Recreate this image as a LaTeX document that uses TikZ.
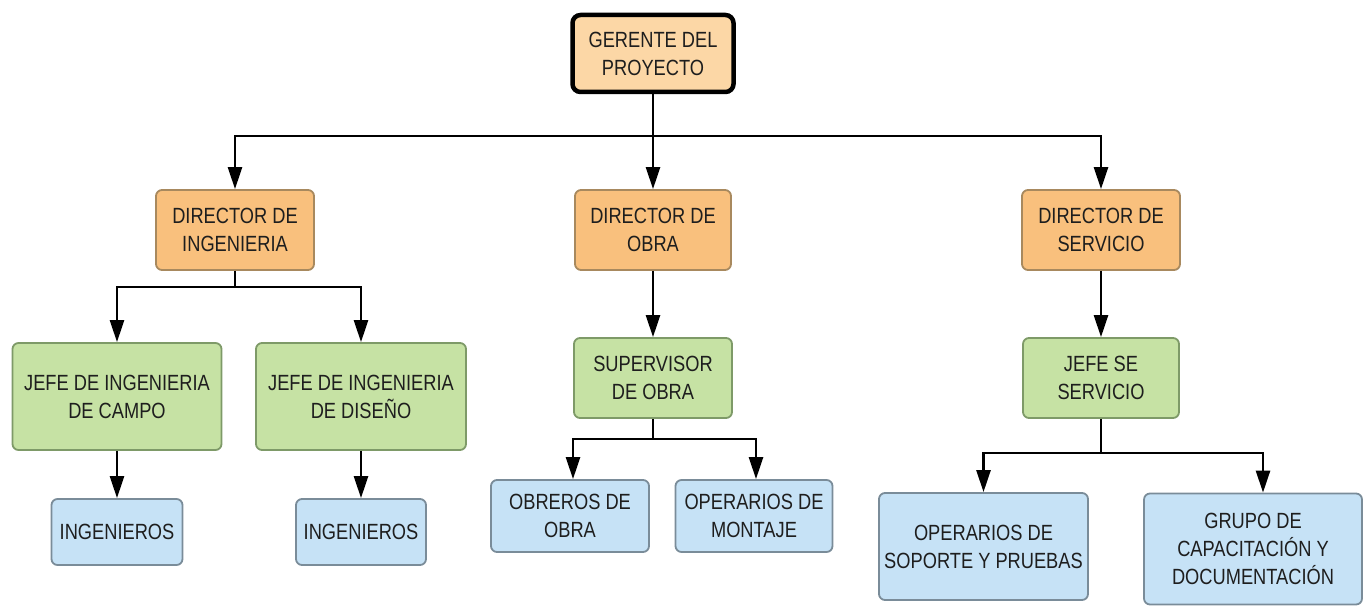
\documentclass[tikz,border=0pt]{standalone}
\usepackage{fontspec}
\setmainfont{Liberation Sans}[FakeStretch=0.83]
\usetikzlibrary{arrows.meta}
\definecolor{gerfill}{HTML}{FCD7A6}
\definecolor{orfill}{HTML}{F9C07D}
\definecolor{ordraw}{HTML}{A8895E}
\definecolor{grfill}{HTML}{C6E2A4}
\definecolor{grdraw}{HTML}{7E9A68}
\definecolor{blfill}{HTML}{C6E2F6}
\definecolor{bldraw}{HTML}{7A8C99}
\definecolor{txt}{HTML}{1E1E1E}
\tikzset{
  box/.style={rectangle, rounded corners=6pt, line width=1.8pt, align=center,
    text=txt, font=\fontsize{22}{28}\selectfont, inner sep=0pt},
  orbox/.style={box, fill=orfill, draw=ordraw},
  grbox/.style={box, fill=grfill, draw=grdraw},
  blbox/.style={box, fill=blfill, draw=bldraw},
  gerbox/.style={box, fill=gerfill, draw=black, line width=4.5pt, rounded corners=8pt},
  con/.style={line width=2.6pt, black},
  arr/.style={con, -{Triangle[length=22pt,width=14pt]}},
}
\begin{document}
\begin{tikzpicture}[x=1pt,y=-1pt]
\useasboundingbox (0,0) rectangle (1364,607);
% nodes
\node[gerbox, minimum width=161pt, minimum height=77pt] (ger) at (653,53.5) {GERENTE DEL\\PROYECTO};
\node[orbox, minimum width=158pt, minimum height=80pt] (dirI) at (235,230) {DIRECTOR DE\\INGENIERIA};
\node[orbox, minimum width=156pt, minimum height=80pt] (dirO) at (653,230) {DIRECTOR DE\\OBRA};
\node[orbox, minimum width=158pt, minimum height=80pt] (dirS) at (1101,230) {DIRECTOR DE\\SERVICIO};
\node[grbox, minimum width=209pt, minimum height=107pt] (jefC) at (117,396.5) {JEFE DE INGENIERIA\\DE CAMPO};
\node[grbox, minimum width=210pt, minimum height=107pt] (jefD) at (361,396.5) {JEFE DE INGENIERIA\\DE DISE\~NO};
\node[blbox, minimum width=131pt, minimum height=66pt] (ing1) at (117,532) {INGENIEROS};
\node[blbox, minimum width=130pt, minimum height=66pt] (ing2) at (361,532) {INGENIEROS};
\node[grbox, minimum width=158pt, minimum height=80pt] (sup) at (653,378) {SUPERVISOR\\DE OBRA};
\node[blbox, minimum width=158pt, minimum height=72pt] (obr) at (570,516) {OBREROS DE\\OBRA};
\node[blbox, minimum width=157pt, minimum height=72pt] (opm) at (754,516) {OPERARIOS DE\\MONTAJE};
\node[grbox, minimum width=156pt, minimum height=80pt] (jefS) at (1101,378) {JEFE SE\\SERVICIO};
\node[blbox, minimum width=209pt, minimum height=107pt] (ops) at (983.5,546.5) {OPERARIOS DE\\SOPORTE Y PRUEBAS};
\node[blbox, minimum width=218pt, minimum height=111pt] (grp) at (1253,549) {GRUPO DE\\CAPACITACI\'ON Y\\DOCUMENTACI\'ON};
% connectors
\coordinate (b0) at (653,136);
\draw[con] (ger.south) -- (b0);
\draw[arr] (b0) -| (dirI.north);
\draw[arr] (b0) -| (dirS.north);
\draw[arr] (b0) -- (dirO.north);
\coordinate (b1) at (235,287);
\draw[con] (dirI.south) -- (b1);
\draw[arr] (b1) -| (jefC.north);
\draw[arr] (b1) -| (jefD.north);
\draw[arr] (jefC.south) -- (ing1.north);
\draw[arr] (jefD.south) -- (ing2.north);
\draw[arr] (dirO.south) -- (sup.north);
\draw[arr] (dirS.south) -- (jefS.north);
\coordinate (b2) at (653,439);
\draw[con] (sup.south) -- (b2);
\draw[arr] (b2) -| ([xshift=3pt]obr.north);
\draw[arr] (b2) -| ([xshift=2pt]opm.north);
\coordinate (b3) at (1101,453);
\draw[con] (jefS.south) -- (b3);
\draw[arr] (b3) -| (ops.north);
\draw[arr] (b3) -| ([xshift=10pt]grp.north);
\end{tikzpicture}
\end{document}
